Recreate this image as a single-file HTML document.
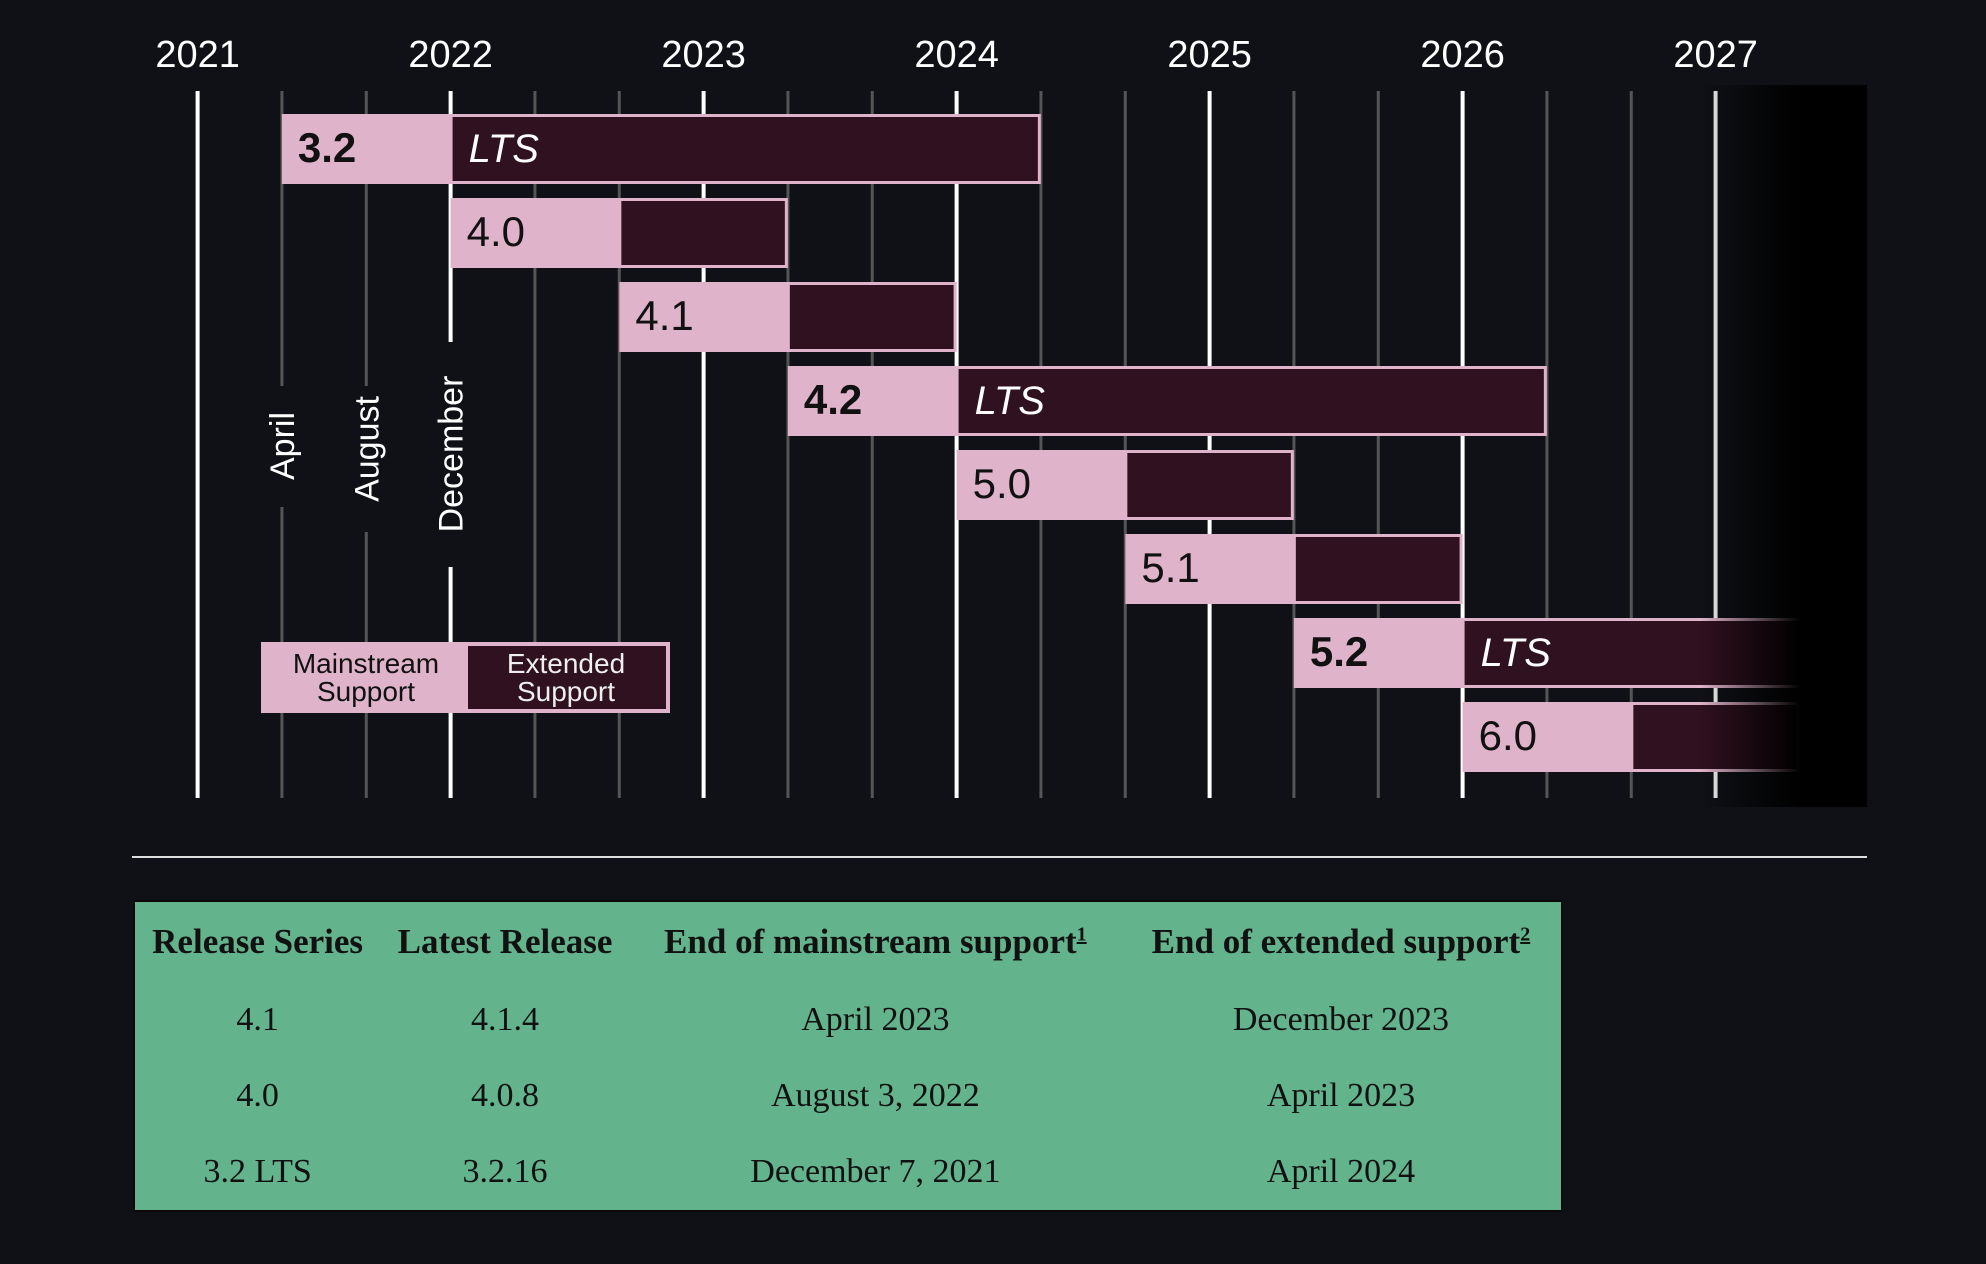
<!DOCTYPE html>
<html><head><meta charset="utf-8">
<style>
html,body{margin:0;padding:0;background:#0f1116;}
#wrap{position:relative;width:1986px;height:1264px;overflow:hidden;background:#0f1116;}
svg{position:absolute;left:0;top:0;}
table{position:absolute;left:133px;top:900px;width:1430px;height:312px;background:#63b38c;border:2px solid #0a0a0a;border-collapse:collapse;font-family:"Liberation Serif",serif;color:#111;}
td,th{text-align:center;font-size:34px;padding:0;white-space:nowrap;}
th{font-size:35px;font-weight:bold;}
sup{font-size:20px;text-decoration:underline;}
</style></head><body>
<div id="wrap">
<svg id="chart" width="1986" height="860"></svg>
<svg width="1986" height="1264" style="pointer-events:none">
<line x1="132" y1="857" x2="1867" y2="857" stroke="#ddd" stroke-width="2"/>
</svg>
<table>
<tr><th>Release Series</th><th>Latest Release</th><th>End of mainstream support<sup>1</sup></th><th>End of extended support<sup>2</sup></th></tr>
<tr><td>4.1</td><td>4.1.4</td><td>April 2023</td><td>December 2023</td></tr>
<tr><td>4.0</td><td>4.0.8</td><td>August 3, 2022</td><td>April 2023</td></tr>
<tr><td>3.2 LTS</td><td>3.2.16</td><td>December 7, 2021</td><td>April 2024</td></tr>
</table>
</div>
<script>
const years = [2021,2022,2023,2024,2025,2026,2027];
const releases = ["3.2","4.0","4.1","4.2","5.0","5.1","5.2","6.0"];
const startT = [2021.333,2022.0,2022.667,2023.333,2024.0,2024.667,2025.333,2026.0];
const mainEndT = [2022.0,2022.667,2023.333,2024.0,2024.667,2025.333,2026.0,2026.667];
const extEndT = [2024.333,2023.333,2024.0,2026.333,2025.333,2026.0,2027.55,2027.333];
const isLTS = [true,false,false,true,false,false,true,false];

const NS="http://www.w3.org/2000/svg";
const svg=document.getElementById('chart');
const X0=197.6, PX=253;
function x(t){return X0+(t-2021)*PX;}
function rowY(i){return 114+i*84;}
function mk(tag,attrs,parent){const e=document.createElementNS(NS,tag);for(const k in attrs)e.setAttribute(k,attrs[k]);(parent||svg).appendChild(e);return e;}

const defs=mk('defs',{});
const g1=mk('linearGradient',{id:'fade',x1:'0',x2:'1',y1:'0',y2:'0'},defs);
mk('stop',{offset:'0','stop-color':'#000','stop-opacity':'0'},g1);
mk('stop',{offset:'0.6','stop-color':'#000','stop-opacity':'1'},g1);
mk('stop',{offset:'1','stop-color':'#000','stop-opacity':'1'},g1);

const minorGaps={1:[386,507],2:[386,532],3:[342,567]};
for(let m=0;m<years.length*3;m++){
  const t=2021+m/3; if(t>2027.4)break;
  const xx=x(t); const major=m%3===0;
  const ln=mk('line',{x1:xx,y1:91,x2:xx,y2:798,stroke:major?'#fff':'#555','stroke-width':major?4:3});
  
  
  if(m<4&&m>0){
    const gp=minorGaps[m]; ln.setAttribute('y2',gp[0]);
    const l2=mk('line',{x1:xx,y1:gp[1],x2:xx,y2:798,stroke:m===3?'#fff':'#555','stroke-width':m===3?4:3});
    
    
  }
}
years.forEach(y=>{
  const t=mk('text',{x:x(y),y:67,fill:'#fff','font-size':38,'font-family':'Liberation Sans, sans-serif','text-anchor':'middle'});
  t.textContent=y;
  
  
});
const months=["April","August","December"];
months.forEach((mn,i)=>{
  const xx=x(2021+(i+1)/3); const cy=[446,449,454][i];
  const t=mk('text',{x:0,y:0,fill:'#fff','font-size':34,'font-family':'Liberation Sans, sans-serif','text-anchor':'middle',transform:`translate(${xx+12},${cy}) rotate(-90)`});
  t.textContent=mn;
  
  
});

releases.forEach((r,i)=>{
  const y=rowY(i), h=70;
  const g=mk('g',{});
  
  
  const xs=x(startT[i]), xm=x(mainEndT[i]), xe=x(extEndT[i]);
  mk('rect',{x:xs,y:y,width:xe-xs,height:h,fill:'#dfb3c9'},g);
  mk('rect',{x:xm+2,y:y+3,width:xe-xm-5,height:h-6,fill:'#30111f'},g);
  const lab=mk('text',{x:xs+16,y:y+48,fill:'#111','font-size':42,'font-weight':isLTS[i]?'bold':'normal','font-family':'Liberation Sans, sans-serif'},g);
  lab.textContent=r;
  if(isLTS[i]){
    const lt=mk('text',{x:xm+18,y:y+48,fill:'#fff','font-size':40,'font-style':'italic','font-family':'Liberation Sans, sans-serif'},g);
    lt.textContent='LTS';
  }
});

const lg=mk('g',{});


mk('rect',{x:261,y:642,width:409,height:71,fill:'#dfb3c9'},lg);
mk('rect',{x:468,y:646,width:198,height:63,fill:'#30111f'},lg);
[["Mainstream",366,673,'#111'],["Support",366,701,'#111'],["Extended",566,673,'#eee'],["Support",566,701,'#eee']].forEach(a=>{
  const t=mk('text',{x:a[1],y:a[2],fill:a[3],'font-size':28,'font-family':'Liberation Sans, sans-serif','text-anchor':'middle'},lg);
  t.textContent=a[0];
});

const f=mk('rect',{x:1700,y:85,width:167,height:722,fill:'url(#fade)'});


</script>
</body></html>
